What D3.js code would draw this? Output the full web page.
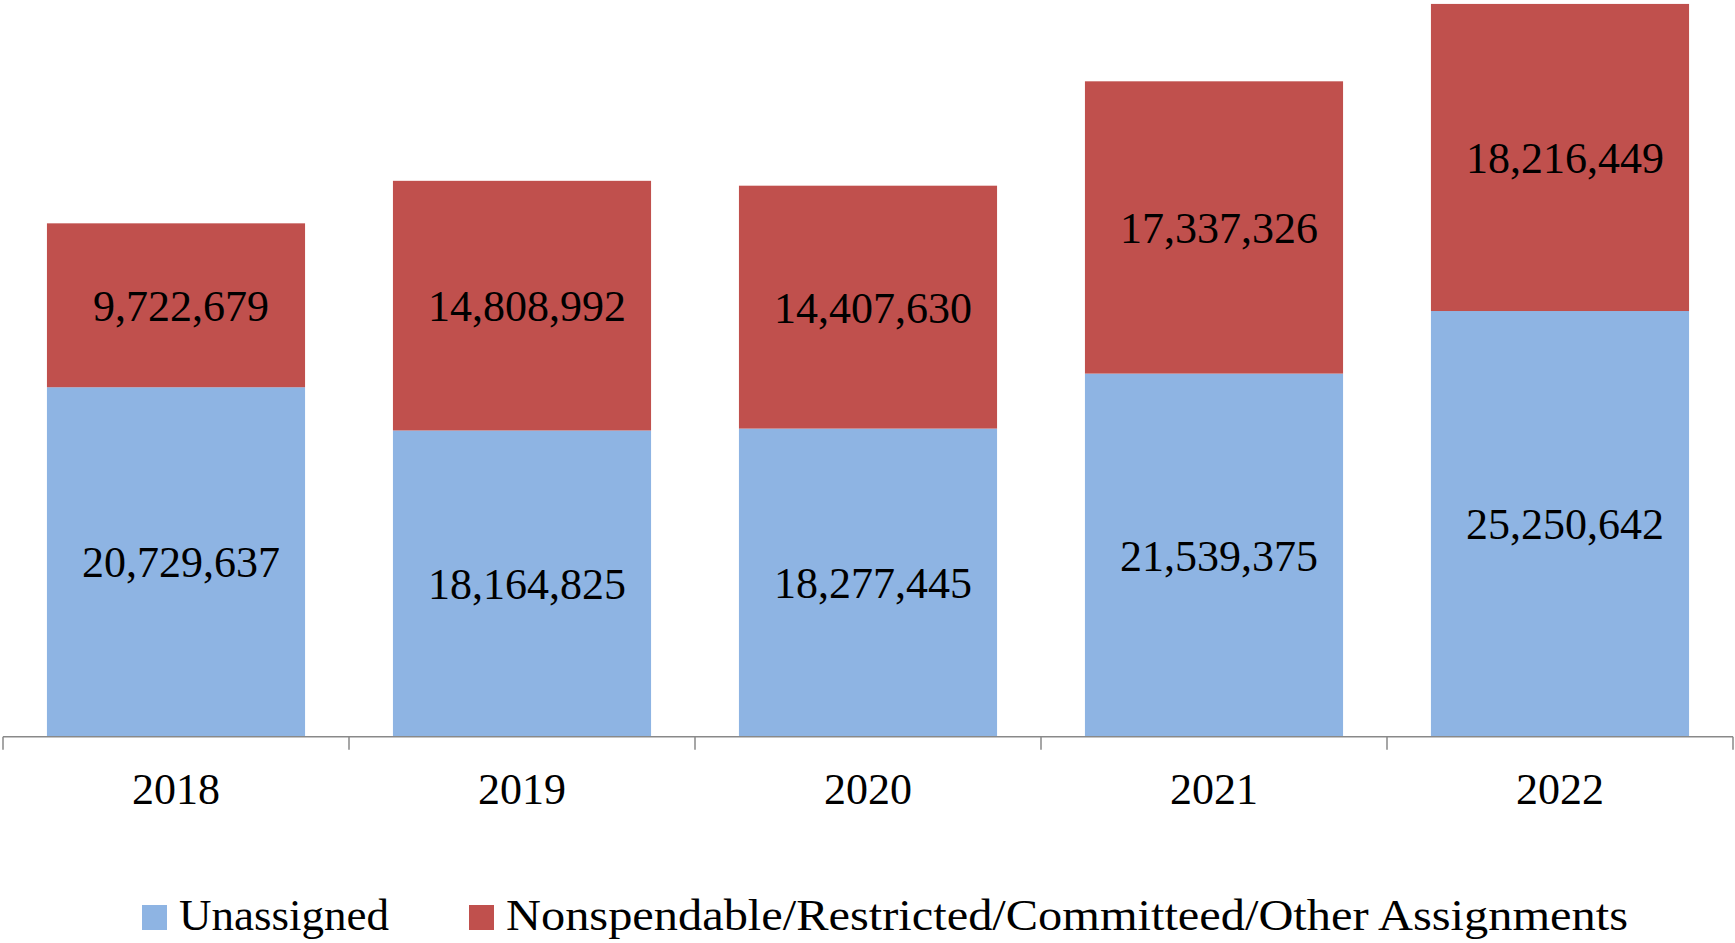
<!DOCTYPE html>
<html lang="en">

<head>
    <meta charset="UTF-8">
    <title>Fund balance stacked bars</title>
    <script src="https://d3js.org/d3.v7.min.js"></script>
    <style>
        body { margin: 0; background: #fff; }
        svg { display: block; font-family: "Liberation Serif", "DejaVu Serif", serif; }
    </style>
</head>

<body>
    <svg width="1735" height="943"></svg>
    <script>
        const years = ['2018', '2019', '2020', '2021', '2022'];
        const unassigned = [20729637, 18164825, 18277445, 21539375, 25250642];
        const otherAssigned = [9722679, 14808992, 14407630, 17337326, 18216449];
        const seriesNames = ['Unassigned', 'Nonspendable/Restricted/Committeed/Other Assignments'];
        const colors = ['#8EB4E3', '#C0504D'];

        const svg = d3.select('svg');

        const x = d3.scaleBand()
            .domain(years)
            .range([3, 1733])
            .paddingInner(0.254)
            .paddingOuter(0.127);

        const y = d3.scaleLinear()
            .domain([0, 43700000])
            .range([736.7, 0]);

        const rows = years.map((yr, i) => ({ year: yr, a: unassigned[i], b: otherAssigned[i] }));
        const stack = d3.stack().keys(['a', 'b'])(rows);

        const fmt = d3.format(',');

        stack.forEach((layer, li) => {
            const g = svg.append('g');
            g.selectAll('rect')
                .data(layer)
                .enter()
                .append('rect')
                .attr('x', d => x(d.data.year))
                .attr('width', x.bandwidth())
                .attr('y', d => y(d[1]))
                .attr('height', d => y(d[0]) - y(d[1]))
                .attr('fill', colors[li]);

            g.selectAll('text')
                .data(layer)
                .enter()
                .append('text')
                .attr('x', d => x(d.data.year) + x.bandwidth() / 2 + 5)
                .attr('y', d => (y(d[0]) + y(d[1])) / 2)
                .attr('dy', '0.35em')
                .attr('text-anchor', 'middle')
                .attr('font-size', 44)
                .attr('fill', '#000')
                .text(d => fmt(d[1] - d[0]));
        });

        // x axis with ticks between categories
        const axisG = svg.append('g');
        axisG.append('line')
            .attr('x1', 3).attr('x2', 1733)
            .attr('y1', y(0)).attr('y2', y(0))
            .attr('stroke', '#898989')
            .attr('stroke-width', 1.5);

        const step = x.step();
        const tickXs = d3.range(years.length + 1).map(i => 3 + i * step);
        axisG.selectAll('.tick')
            .data(tickXs)
            .enter()
            .append('line')
            .attr('x1', d => d).attr('x2', d => d)
            .attr('y1', y(0)).attr('y2', y(0) + 13)
            .attr('stroke', '#898989')
            .attr('stroke-width', 1.5);

        axisG.selectAll('.lbl')
            .data(years)
            .enter()
            .append('text')
            .attr('x', d => x(d) + x.bandwidth() / 2)
            .attr('y', 804)
            .attr('text-anchor', 'middle')
            .attr('font-size', 44)
            .text(d => d);

        // legend
        const legendX = [142, 469];
        const legendW = [210, 1122];
        const legend = svg.append('g');
        seriesNames.forEach((name, i) => {
            legend.append('rect')
                .attr('x', legendX[i]).attr('y', 905)
                .attr('width', 25).attr('height', 25)
                .attr('fill', colors[i]);
            legend.append('text')
                .attr('x', legendX[i] + 37)
                .attr('y', 930)
                .attr('font-size', 45)
                .attr('textLength', legendW[i])
                .attr('lengthAdjust', 'spacingAndGlyphs')
                .text(name);
        });
    </script>
</body>

</html>
